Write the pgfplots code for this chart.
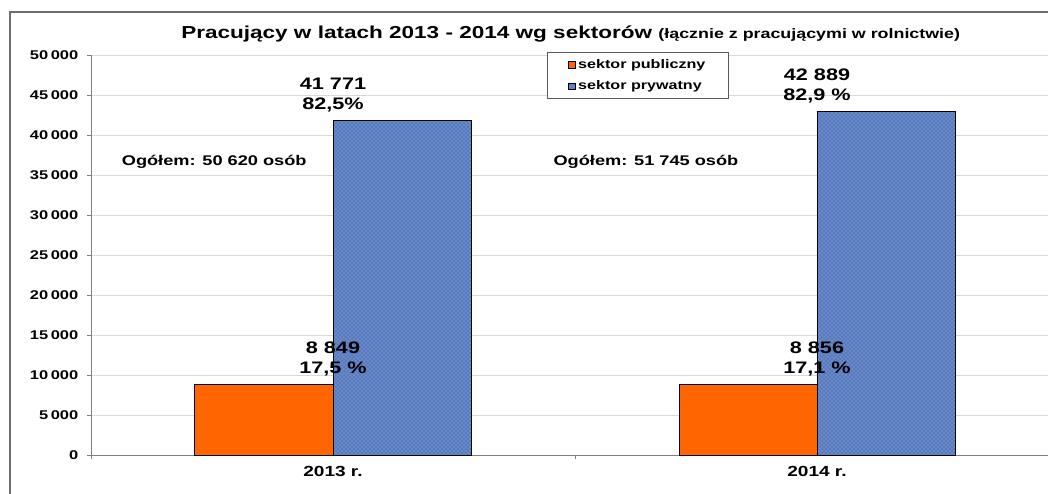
\documentclass[border=0pt]{standalone}
\usepackage{fontspec}
\setmainfont{Liberation Sans}[FakeStretch=1.3]
\usepackage{pgfplots}
\pgfplotsset{compat=1.18}
\usetikzlibrary{patterns}
\definecolor{pubor}{RGB}{255,102,0}
\definecolor{privbl}{RGB}{88,122,188}
\definecolor{privlt}{RGB}{165,195,240}
\definecolor{gridgr}{RGB}{217,217,217}
\definecolor{axgr}{RGB}{128,128,128}

\begin{document}
\begin{tikzpicture}
\useasboundingbox (0,0) rectangle (786pt,-369.75pt);
% outer frame (left and top only are visible)
\draw[axgr!85!black, line width=1pt] (7.5pt,-380pt) -- (7.5pt,-9pt) -- (800pt,-9pt);
\node[anchor=base west, inner sep=0pt] at (135.75pt,-28.5pt)
  {\fontsize{13}{15}\selectfont\bfseries Pracujący w latach 2013 - 2014 wg sektorów
   \fontsize{10.3}{12}\selectfont(łącznie z pracującymi w rolnictwie)};
\begin{axis}[
    at={(68.25pt,-341.25pt)}, anchor=south west,
    scale only axis, width=717.75pt, height=300pt,
    xmin=-0.5, xmax=1.4773, ymin=0, ymax=50000,
    axis x line*=bottom, axis y line*=left,
    axis line style={-, axgr, line width=0.75pt},
    ytick={0,5000,...,50000},
    scaled y ticks=false,
    yticklabel={\pgfmathprintnumber[fixed,precision=0,1000 sep={\hspace{0.2em}},min exponent for 1000 sep=3,assume math mode=true]{\tick}},
    yticklabel style={font=\fontsize{9.5}{11}\selectfont\bfseries, xshift=-3pt},
    ymajorgrids, grid style={gridgr, line width=0.75pt},
    xtick={-0.5,0.5}, xticklabels={,},
    extra x ticks={0,1}, extra x tick labels={2013 r., 2014 r.},
    extra x tick style={major tick length=0pt, grid=none},
    xticklabel style={font=\fontsize{11}{13}\selectfont\bfseries, yshift=-5pt},
    tick align=outside, major tick length=3pt,
    tick style={axgr, line width=0.75pt},
    point meta=explicit symbolic,
    nodes near coords,
    every node near coord/.append style={align=center, anchor=south, black,
        font=\fontsize{12.5}{15}\selectfont\bfseries, inner sep=2pt, yshift=4pt},
    legend style={at={(0.4765,1.0075)}, anchor=north west,
        draw=axgr!70!black, fill=white, line width=0.75pt,
        font=\fontsize{9.3}{11}\selectfont\bfseries,
        inner xsep=15pt, inner ysep=3pt, row sep=4pt,
        /tikz/every even column/.append style={column sep=1pt}},
    legend cell align=left,
    legend image code/.code={\draw[#1, line width=0.5pt] (0pt,-2.5pt) rectangle (5.5pt,2.5pt);},
]
\addplot[ybar, bar width=103.5pt, bar shift=-51.75pt, fill=pubor, draw=black, line width=0.75pt]
    coordinates {(0,8849) [{8 849\\17,5 \%}] (1,8856) [{8 856\\17,1 \%}]};
\addlegendentry{sektor publiczny}
\addplot[ybar, bar width=103.5pt, bar shift=51.75pt, fill=privbl, draw=black, line width=0.75pt,
    postaction={pattern=crosshatch dots, pattern color=privlt}]
    coordinates {(0,41771) [{41 771\\82,5\%}] (1,42889) [{42 889\\82,9 \%}]};
\addlegendentry{sektor prywatny}
\node[anchor=base west, font=\fontsize{10.5}{12}\selectfont\bfseries] at (axis cs:-0.446,36250) {Ogółem: 50 620 osób};
\node[anchor=base west, font=\fontsize{10.5}{12}\selectfont\bfseries] at (axis cs:0.446,36250) {Ogółem: 51 745 osób};
\end{axis}
\end{tikzpicture}
\end{document}
